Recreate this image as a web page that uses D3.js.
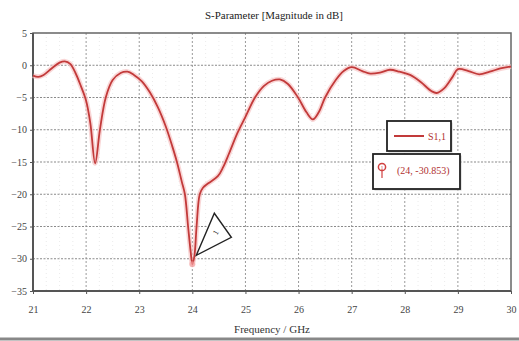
<!DOCTYPE html>
<html><head><meta charset="utf-8">
<script src="https://cdn.jsdelivr.net/npm/d3@7"></script>
<style>
html,body{margin:0;padding:0;background:#fff;}
svg{display:block;}
</style></head>
<body>
<svg id="c" width="519" height="341"></svg>
<script>
const freq = [21.0,21.1,21.2,21.35,21.5,21.6,21.7,21.8,21.9,22.0,22.08,22.17,22.26,22.37,22.5,22.65,22.78,22.9,23.05,23.2,23.35,23.5,23.62,23.71,23.8,23.86,23.92,23.97,24.0,24.04,24.08,24.14,24.2,24.3,24.48,24.58,24.7,24.85,25.0,25.18,25.35,25.5,25.65,25.8,25.99,26.15,26.27,26.38,26.5,26.7,26.85,27.0,27.2,27.35,27.55,27.72,27.9,28.1,28.3,28.5,28.6,28.75,28.9,29.0,29.2,29.4,29.6,29.8,30.0];
const s11 = [-1.6,-1.8,-1.5,-0.5,0.4,0.6,0.2,-1.2,-3.2,-5.5,-9,-15.2,-10,-5,-2.3,-1.2,-1.0,-1.5,-2.5,-4.2,-6.5,-9.5,-12.5,-15,-18,-20,-25,-29,-30.85,-29.5,-25,-20,-19,-18.3,-17.2,-15.8,-13.5,-10.5,-8,-5,-3.2,-2.4,-2.2,-2.9,-5,-7.3,-8.4,-7.3,-5,-2.3,-0.9,-0.3,-0.9,-1.3,-1.1,-0.7,-1.0,-1.5,-2.6,-4.0,-4.3,-3.5,-1.8,-0.6,-0.9,-1.4,-1.0,-0.5,-0.2];
const xTicks = [21,22,23,24,25,26,27,28,29,30];
const yTicks = [5,0,-5,-10,-15,-20,-25,-30,-35];
const markerF = 24, markerDb = -30.853;
const legendLabel = "S1,1";
const markerLabel = "(24, -30.853)";

const svg = d3.select("#c");
const L = 33, R = 511, T = 33, B = 291;
const x = d3.scaleLinear().domain([21,30]).range([L,R]);
const y = d3.scaleLinear().domain([-35,5]).range([B,T]);
const serif = "'Liberation Serif','DejaVu Serif',serif";

// minor grid
const minorX = d3.range(21,30.01,0.25).filter(v=>Math.abs(v-Math.round(v))>1e-6);
svg.append("g").selectAll("line").data(minorX).join("line")
  .attr("x1",d=>x(d)).attr("x2",d=>x(d)).attr("y1",T).attr("y2",B)
  .attr("stroke","#e6e6e6").attr("stroke-width",0.8).attr("stroke-dasharray","1,3");
// major grid
svg.append("g").selectAll("line").data(xTicks.slice(1,-1)).join("line")
  .attr("x1",d=>x(d)).attr("x2",d=>x(d)).attr("y1",T).attr("y2",B)
  .attr("stroke","#9a9a9a").attr("stroke-width",1).attr("stroke-dasharray","2,2");
svg.append("g").selectAll("line").data(yTicks.slice(1,-1)).join("line")
  .attr("x1",L).attr("x2",R).attr("y1",d=>y(d)).attr("y2",d=>y(d))
  .attr("stroke","#8a8a8a").attr("stroke-width",1.2).attr("stroke-dasharray","2,1.5");

// axes
const xAxis = d3.axisBottom(x).tickValues(xTicks).tickSize(3).tickFormat(d3.format("d"));
const gx = svg.append("g").attr("transform",`translate(0,${B})`).call(xAxis);
gx.select(".domain").remove();
gx.selectAll("line").attr("stroke","#555");
gx.selectAll("text").attr("font-family",serif).attr("font-size",10).attr("fill","#444").attr("dy","1.6em");
const yAxis = d3.axisLeft(y).tickValues(yTicks).tickSize(3).tickFormat(d3.format("d"));
const gy = svg.append("g").attr("transform",`translate(${L},0)`).call(yAxis);
gy.select(".domain").remove();
gy.selectAll("line").attr("stroke","#555");
gy.selectAll("text").attr("font-family",serif).attr("font-size",10).attr("fill","#444").attr("x",-6);

// frame
svg.append("rect").attr("x",L).attr("y",T).attr("width",R-L).attr("height",B-T)
  .attr("fill","none").attr("stroke","#666").attr("stroke-width",1.5);
svg.append("line").attr("x1",L).attr("x2",L).attr("y1",T).attr("y2",B).attr("stroke","#555").attr("stroke-width",2);
svg.append("line").attr("x1",L).attr("x2",R).attr("y1",B).attr("y2",B).attr("stroke","#555").attr("stroke-width",2);

// curve
const pts = freq.map((f,i)=>[f,s11[i]]);
const line = d3.line().x(d=>x(d[0])).y(d=>y(d[1])).curve(d3.curveCatmullRom.alpha(0.5));
svg.append("path").attr("d",line(pts)).attr("fill","none").attr("stroke","#f6c4c4").attr("stroke-width",5).attr("stroke-opacity",0.7);
svg.append("path").attr("d",line(pts)).attr("fill","none").attr("stroke","#c23a3a").attr("stroke-width",1.8);

// marker annotation
const mx = x(markerF), my = y(markerDb);
svg.append("circle").attr("cx",mx).attr("cy",my).attr("r",3).attr("fill","#f3a0a0").attr("opacity",0.7);
const tri = [[mx+4,my-9],[mx+22,my-51],[mx+39,my-27]];
svg.append("path").attr("d","M"+tri.map(p=>p.join(",")).join("L")+"Z")
  .attr("fill","#fff").attr("stroke","#222").attr("stroke-width",1.4).attr("stroke-linejoin","miter");
svg.append("text").attr("x",mx+23).attr("y",my-29).attr("font-family",serif).attr("font-size",8)
  .attr("fill","#333").attr("text-anchor","middle").attr("transform",`rotate(-60,${mx+23},${my-32})`).text("1");

// legend boxes
function box(x0,y0,w,h){
  svg.append("rect").attr("x",x0+1.5).attr("y",y0+1.5).attr("width",w).attr("height",h).attr("fill","#ccc");
  svg.append("rect").attr("x",x0).attr("y",y0).attr("width",w).attr("height",h).attr("fill","#fff").attr("stroke","#222").attr("stroke-width",1.8);
}
box(387,121,64,30);
svg.append("line").attr("x1",394).attr("x2",424).attr("y1",136).attr("y2",136).attr("stroke","#c23a3a").attr("stroke-width",2);
svg.append("text").attr("x",428).attr("y",139.5).attr("font-family",serif).attr("font-size",10).attr("fill","#b03030").text(legendLabel);
box(373,154,87,35);
svg.append("circle").attr("cx",382).attr("cy",167).attr("r",3.6).attr("fill","none").attr("stroke","#d04040").attr("stroke-width",1.5);
svg.append("line").attr("x1",382).attr("x2",382).attr("y1",171).attr("y2",178).attr("stroke","#d04040").attr("stroke-width",1.2);
svg.append("text").attr("x",382).attr("y",169.5).attr("font-family",serif).attr("font-size",6).attr("fill","#d04040").attr("text-anchor","middle").text("1");
svg.append("text").attr("x",397).attr("y",174).attr("font-family",serif).attr("font-size",10).attr("fill","#b03030").text(markerLabel);

// title and axis label
svg.append("text").attr("x",274).attr("y",19).attr("text-anchor","middle").attr("font-family",serif)
  .attr("font-size",11).attr("fill","#222").attr("textLength",138).attr("lengthAdjust","spacingAndGlyphs").text("S-Parameter [Magnitude in dB]");
svg.append("text").attr("x",272).attr("y",333).attr("text-anchor","middle").attr("font-family",serif)
  .attr("font-size",10.5).attr("fill","#333").attr("textLength",76).attr("lengthAdjust","spacingAndGlyphs").text("Frequency / GHz");
// bottom rule
svg.append("line").attr("x1",0).attr("x2",519).attr("y1",339).attr("y2",339).attr("stroke","#888").attr("stroke-width",3);
</script>
</body></html>
